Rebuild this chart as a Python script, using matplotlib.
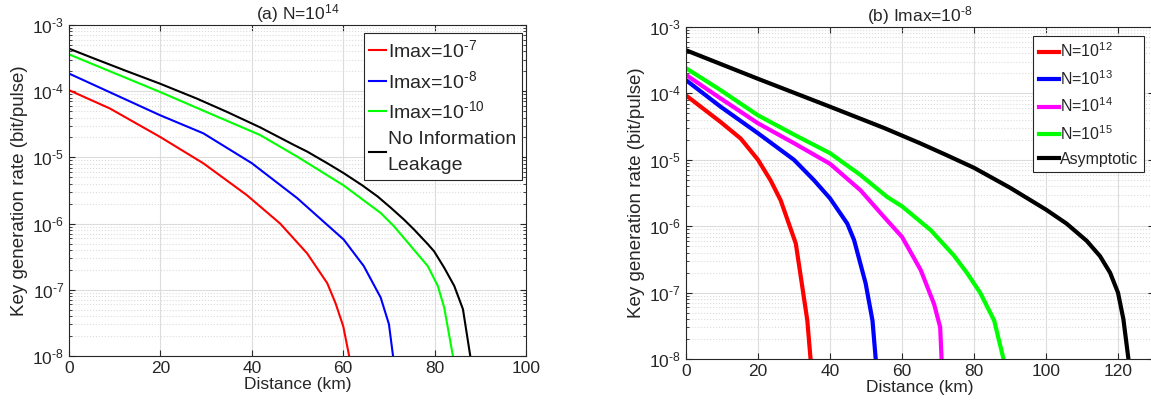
import matplotlib
matplotlib.use("Agg")
import matplotlib.pyplot as plt
import numpy as np

plt.rcParams['font.family'] = ['Liberation Sans', 'DejaVu Sans']
plt.rcParams['mathtext.fontset'] = 'custom'
plt.rcParams['mathtext.rm'] = 'Liberation Sans'
plt.rcParams['mathtext.it'] = 'Liberation Sans:italic'
plt.rcParams['mathtext.default'] = 'regular'

DARK = '#262626'

# --- (a) N=10^14, varying Imax  (y values are log10 of the rate) ---
a_x_red = [0, 8.9, 19.9, 29.4, 38.9, 46.2, 52.1, 56.5, 58.3, 60.0, 61.3]
a_y_red = [-3.985, -4.26, -4.69, -5.09, -5.57, -6.0, -6.45, -6.90, -7.20, -7.55, -8.0]

a_x_blue = [0, 19.85, 29.4, 40.0, 49.9, 60.1, 64.5, 68.2, 70.0, 70.9]
a_y_blue = [-3.734, -4.361, -4.637, -5.088, -5.614, -6.241, -6.642, -7.118, -7.519, -8.0]

a_x_green = [0, 19.85, 30.8, 41.8, 49.9, 60.1, 63.8, 68.2, 71.1, 74.8, 78.5, 80.7, 82.1, 84.0]
a_y_green = [-3.444, -4.010, -4.336, -4.662, -4.987, -5.424, -5.614, -5.840, -6.040,
             -6.341, -6.642, -6.942, -7.268, -8.0]

a_x_black = [0, 5.2, 12.5, 19.85, 27.9, 34.5, 41.8, 49.2, 52.1, 56.5, 60.1, 64.2, 67.5,
             70.4, 73.3, 75.5, 78.5, 79.9, 82.1, 84.3, 86.2, 87.8]
a_y_black = [-3.358, -3.499, -3.694, -3.885, -4.110, -4.311, -4.546, -4.812, -4.912,
             -5.088, -5.238, -5.424, -5.589, -5.76, -5.94, -6.09, -6.31, -6.42,
             -6.667, -6.942, -7.293, -8.0]

a_labels = [r'Imax=10$^{\text{-}7}$', r'Imax=10$^{\text{-}8}$', r'Imax=10$^{\text{-}10}$',
            'No Information\nLeakage']

# --- (b) Imax=10^-8, varying N ---
b_x_red = [0, 9.6, 15.2, 20.0, 23.5, 26.3, 30.5, 32.3, 33.7, 34.6]
b_y_red = [-4.03, -4.43, -4.68, -5.0, -5.31, -5.61, -6.26, -6.91, -7.42, -8.0]

b_x_blue = [0, 9.6, 20.0, 30.0, 35.6, 40.0, 44.8, 46.7, 49.9, 51.8, 52.7]
b_y_blue = [-3.80, -4.20, -4.60, -5.0, -5.31, -5.58, -5.96, -6.21, -6.86, -7.42, -8.0]

b_x_mag = [0, 9.6, 20.0, 30.0, 40.0, 48.5, 55.0, 60.0, 65.2, 68.9, 70.6, 71.0]
b_y_mag = [-3.72, -4.075, -4.45, -4.75, -5.06, -5.46, -5.86, -6.16, -6.66, -7.17, -7.52, -8.0]

b_x_green = [0, 9.6, 20.0, 30.0, 40.0, 48.5, 55.9, 60.0, 68.0, 74.4, 78.0, 81.7, 85.6, 88.2]
b_y_green = [-3.62, -3.95, -4.33, -4.62, -4.90, -5.23, -5.56, -5.70, -6.06, -6.44, -6.70,
             -7.0, -7.42, -8.0]

b_x_black = [0, 20.0, 40.0, 55.0, 65.0, 72.0, 80.0, 90.0, 100.0, 105.7, 111.3, 115.0, 117.8,
             120.0, 121.5, 122.9]
b_y_black = [-3.35, -3.78, -4.20, -4.52, -4.75, -4.92, -5.12, -5.42, -5.75, -5.96, -6.22,
             -6.45, -6.70, -7.0, -7.40, -8.0]

b_labels = ['N=10$^{12}$', 'N=10$^{13}$', 'N=10$^{14}$', 'N=10$^{15}$', 'Asymptotic']


def style_axes(ax, xmax, xticks):
    ax.set_yscale('log')
    ax.set_xlim(0, xmax)
    ax.set_ylim(1e-8, 1e-3)
    ax.set_xticks(xticks)
    ax.set_yticks([1e-8, 1e-7, 1e-6, 1e-5, 1e-4, 1e-3])
    ax.set_yticklabels([r'10$^{\text{-}%d}$' % e for e in range(8, 2, -1)])
    ax.tick_params(which='both', direction='in', top=True, right=True,
                   colors=DARK, labelsize=12.5)
    ax.tick_params(which='major', length=4)
    ax.tick_params(which='minor', length=2)
    ax.grid(True, which='major', color='#dcdcdc', linewidth=0.8)
    ax.grid(True, which='minor', axis='y', color='#dcdcdc', linestyle=':', linewidth=0.8)
    for s in ax.spines.values():
        s.set_color(DARK)
        s.set_linewidth(0.8)
    ax.set_xlabel('Distance (km)', fontsize=12.5, color=DARK, labelpad=1)
    ax.set_ylabel('Key generation rate (bit/pulse)', fontsize=13.5, color=DARK, labelpad=3)


def style_legend(leg):
    leg.get_frame().set_linewidth(0.8)
    for t in leg.get_texts():
        t.set_color(DARK)
        t.set_linespacing(1.7)


fig = plt.figure(figsize=(11.51, 4.15), dpi=100)

ax1 = fig.add_axes([0.0600, 0.1422, 0.3970, 0.7976])
lw1 = 1.5
ax1.plot(a_x_red, 10 ** np.array(a_y_red), color='#ff0000', lw=lw1, label=a_labels[0])
ax1.plot(a_x_blue, 10 ** np.array(a_y_blue), color='#0000ff', lw=lw1, label=a_labels[1])
ax1.plot(a_x_green, 10 ** np.array(a_y_green), color='#00ff00', lw=lw1, label=a_labels[2])
ax1.plot(a_x_black, 10 ** np.array(a_y_black), color='#000000', lw=lw1, label=a_labels[3])
style_axes(ax1, 100, [0, 20, 40, 60, 80, 100])
ax1.set_title('(a) N=10$^{14}$', fontsize=12.5, color=DARK, pad=3)
leg1 = ax1.legend(loc='upper right', bbox_to_anchor=(0.991, 0.975), fontsize=14,
                  handlelength=0.85, handletextpad=0.1, labelspacing=0.45,
                  borderpad=0.3, borderaxespad=0, fancybox=False, framealpha=1,
                  edgecolor=DARK)
style_legend(leg1)

ax2 = fig.add_axes([0.5960, 0.1349, 0.4066, 0.8000])
lw2 = 3.0
ax2.plot(b_x_red, 10 ** np.array(b_y_red), color='#ff0000', lw=lw2, label=b_labels[0])
ax2.plot(b_x_blue, 10 ** np.array(b_y_blue), color='#0000ff', lw=lw2, label=b_labels[1])
ax2.plot(b_x_mag, 10 ** np.array(b_y_mag), color='#ff00ff', lw=lw2, label=b_labels[2])
ax2.plot(b_x_green, 10 ** np.array(b_y_green), color='#00ff00', lw=lw2, label=b_labels[3])
ax2.plot(b_x_black, 10 ** np.array(b_y_black), color='#000000', lw=lw2, label=b_labels[4])
style_axes(ax2, 130, [0, 20, 40, 60, 80, 100, 120])
ax2.set_title(r'(b) Imax=10$^{\text{-}8}$', fontsize=12.5, color=DARK, pad=3)
leg2 = ax2.legend(loc='upper right', bbox_to_anchor=(0.979, 0.973), fontsize=11.5,
                  handlelength=1.25, handletextpad=0.1, labelspacing=0.55,
                  borderpad=0.35, borderaxespad=0, fancybox=False, framealpha=1,
                  edgecolor=DARK)
style_legend(leg2)

fig.savefig('out.png', dpi=100)
